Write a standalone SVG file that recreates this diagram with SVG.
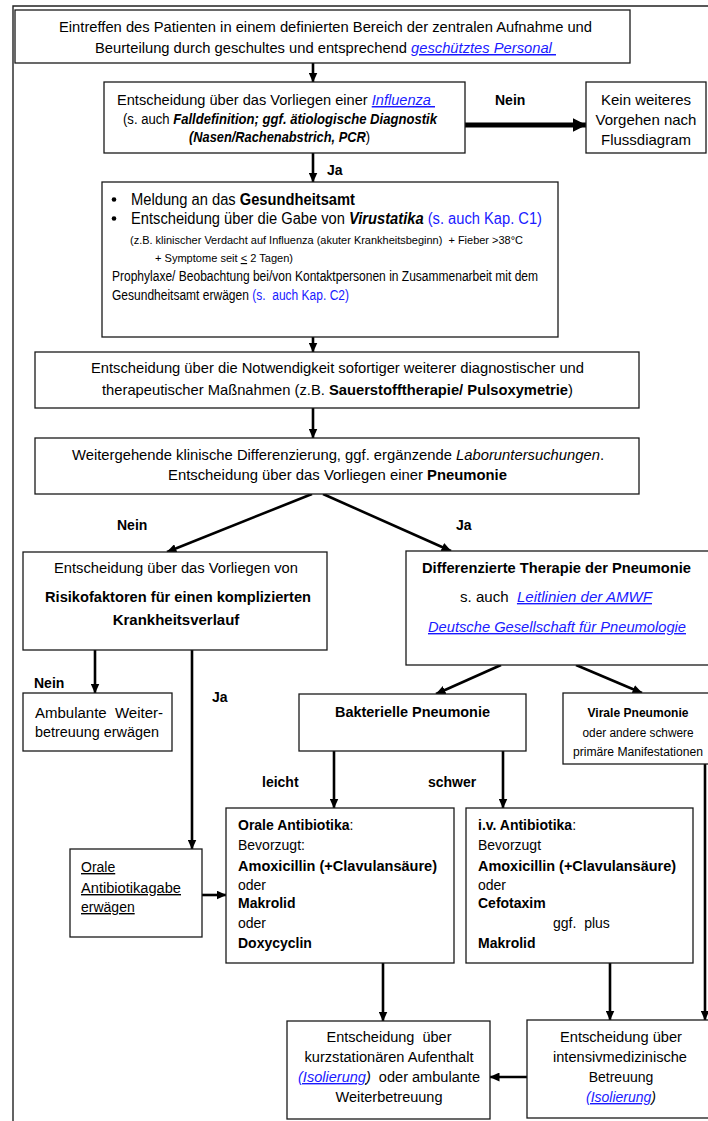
<svg xmlns="http://www.w3.org/2000/svg" width="708" height="1121" viewBox="0 0 708 1121">
<style>
.t{font-family:"Liberation Sans",Arial,sans-serif;font-size:15px;fill:#000;white-space:pre}
.s{font-size:14px}
.b{font-weight:bold}
.i{font-style:italic}
.lk{fill:#1a1aff;font-style:italic;text-decoration:underline}
.bl{fill:#1a1aff}
.u{text-decoration:underline}
.box{fill:#fff;stroke:#1a1a1a;stroke-width:1.3}
.c{fill:none;stroke:#000;stroke-width:2.6}
.frame{fill:none;stroke:#222;stroke-width:1.4}
</style>
<defs>
<marker id="ah" viewBox="0 0 10 9" refX="9.5" refY="4.5" markerWidth="10" markerHeight="9" markerUnits="userSpaceOnUse" orient="auto"><path d="M0,0 L10,4.5 L0,9 z" fill="#000"/></marker>
<marker id="ahb" viewBox="0 0 14 14" refX="13.5" refY="7" markerWidth="14" markerHeight="14" markerUnits="userSpaceOnUse" orient="auto"><path d="M0,0 L14,7 L0,14 z" fill="#000"/></marker>
</defs>
<rect width="708" height="1121" fill="#fff"/>
<path class="frame" d="M13,1121 V6 H708"/>

<g id="connectors">
<path class="c" d="M313,63 V82" marker-end="url(#ah)"/>
<path class="c" d="M465,125 H586" style="stroke-width:5" marker-end="url(#ahb)"/>
<path class="c" d="M313,153 V182" marker-end="url(#ah)"/>
<path class="c" d="M313,337 V352" marker-end="url(#ah)"/>
<path class="c" d="M313,408 V438" marker-end="url(#ah)"/>
<path class="c" d="M312,494 L167,552" marker-end="url(#ah)"/>
<path class="c" d="M323,494 L451,551" marker-end="url(#ah)"/>
<path class="c" d="M95,650 V693" marker-end="url(#ah)"/>
<path class="c" d="M192,650 V849" marker-end="url(#ah)"/>
<path class="c" d="M501,665 L436,694" marker-end="url(#ah)"/>
<path class="c" d="M576,665 L642,693" marker-end="url(#ah)"/>
<path class="c" d="M334,751 V808" marker-end="url(#ah)"/>
<path class="c" d="M503,751 V808" marker-end="url(#ah)"/>
<path class="c" d="M202,895 H226" marker-end="url(#ah)"/>
<path class="c" d="M383,963 V1021" marker-end="url(#ah)"/>
<path class="c" d="M610,963 V1020" marker-end="url(#ah)"/>
<path class="c" d="M705,764 V1020" marker-end="url(#ah)"/>
<path class="c" d="M527,1077 H490" marker-end="url(#ah)"/>
<text class="t b s" x="495" y="105">Nein</text>
<text class="t b s" x="327" y="175">Ja</text>
<text class="t b s" x="117" y="530">Nein</text>
<text class="t b s" x="456" y="530">Ja</text>
<text class="t b s" x="34" y="688">Nein</text>
<text class="t b s" x="212" y="702">Ja</text>
<text class="t b s" x="262" y="787">leicht</text>
<text class="t b s" x="428" y="787">schwer</text>
</g>

<g id="n1">
<rect class="box" x="15" y="10" width="615" height="53"/>
<text class="t" x="59" y="32" textLength="533" lengthAdjust="spacingAndGlyphs">Eintreffen des Patienten in einem definierten Bereich der zentralen Aufnahme und</text>
<text class="t" x="95" y="53" textLength="461" lengthAdjust="spacingAndGlyphs">Beurteilung durch geschultes und entsprechend <tspan class="lk">geschütztes Personal </tspan></text>
</g>

<g id="n2">
<rect class="box" x="104" y="82" width="361" height="71"/>
<text class="t" x="117" y="105" textLength="318" lengthAdjust="spacingAndGlyphs">Entscheidung über das Vorliegen einer <tspan class="lk">Influenza </tspan></text>
<text class="t s" x="123" y="124" textLength="314" lengthAdjust="spacingAndGlyphs">(s. auch <tspan class="b i">Falldefinition; ggf. ätiologische Diagnostik</tspan></text>
<text class="t s" x="189" y="142" textLength="181" lengthAdjust="spacingAndGlyphs"><tspan class="b i">(Nasen/Rachenabstrich, PCR</tspan>)</text>
</g>

<g id="n3">
<rect class="box" x="586" y="82" width="120" height="71"/>
<text class="t" x="646" y="105" text-anchor="middle">Kein weiteres</text>
<text class="t" x="646" y="125" text-anchor="middle">Vorgehen nach</text>
<text class="t" x="646" y="145" text-anchor="middle">Flussdiagram</text>
</g>

<g id="n4">
<rect class="box" x="102" y="182" width="456" height="155"/>
<circle cx="114" cy="199.5" r="2.3"/>
<circle cx="114" cy="218.5" r="2.3"/>
<text class="t" x="131" y="205" style="font-size:16px" textLength="224" lengthAdjust="spacingAndGlyphs">Meldung an das <tspan class="b">Gesundheitsamt</tspan></text>
<text class="t" x="131" y="224" style="font-size:16px" textLength="411" lengthAdjust="spacingAndGlyphs">Entscheidung über die Gabe von <tspan class="b i">Virustatika</tspan><tspan class="bl"> (s. auch Kap. C1)</tspan></text>
<text class="t" x="130" y="244" style="font-size:11.5px" textLength="393" lengthAdjust="spacingAndGlyphs">(z.B. klinischer Verdacht auf Influenza (akuter Krankheitsbeginn)  + Fieber &gt;38°C</text>
<text class="t" x="155" y="262" style="font-size:11.5px" textLength="138" lengthAdjust="spacingAndGlyphs">+ Symptome seit <tspan class="u">&lt;</tspan> 2 Tagen)</text>
<text class="t s" x="112" y="281" textLength="426" lengthAdjust="spacingAndGlyphs">Prophylaxe/ Beobachtung bei/von Kontaktpersonen in Zusammenarbeit mit dem</text>
<text class="t s" x="112" y="300" textLength="237" lengthAdjust="spacingAndGlyphs">Gesundheitsamt erwägen <tspan class="bl">(s.  auch Kap. C2)</tspan></text>
</g>

<g id="n5">
<rect class="box" x="35" y="352" width="604" height="56"/>
<text class="t" x="91" y="373" textLength="493" lengthAdjust="spacingAndGlyphs">Entscheidung über die Notwendigkeit sofortiger weiterer diagnostischer und</text>
<text class="t" x="102" y="395" textLength="471" lengthAdjust="spacingAndGlyphs">therapeutischer Maßnahmen (z.B. <tspan class="b">Sauerstofftherapie/ Pulsoxymetrie</tspan>)</text>
</g>

<g id="n6">
<rect class="box" x="35" y="438" width="604" height="56"/>
<text class="t" x="72" y="460" textLength="532" lengthAdjust="spacingAndGlyphs">Weitergehende klinische Differenzierung, ggf. ergänzende <tspan class="i">Laboruntersuchungen</tspan>.</text>
<text class="t" x="168" y="480" textLength="339" lengthAdjust="spacingAndGlyphs">Entscheidung über das Vorliegen einer <tspan class="b">Pneumonie</tspan></text>
</g>

<g id="n7">
<rect class="box" x="23" y="552" width="304" height="98"/>
<text class="t s" x="54" y="573" textLength="244" lengthAdjust="spacingAndGlyphs">Entscheidung über das Vorliegen von</text>
<text class="t b" x="45" y="602" textLength="266" lengthAdjust="spacingAndGlyphs">Risikofaktoren für einen komplizierten</text>
<text class="t b" x="176" y="625" text-anchor="middle">Krankheitsverlauf</text>
</g>

<g id="n8">
<rect class="box" x="406" y="551" width="310" height="114"/>
<text class="t b s" x="422" y="573" textLength="269" lengthAdjust="spacingAndGlyphs">Differenzierte Therapie der Pneumonie</text>
<text class="t s" x="460" y="602" textLength="192" lengthAdjust="spacingAndGlyphs">s. auch  <tspan class="lk">Leitlinien der AMWF</tspan></text>
<text class="t s" x="428" y="632" textLength="258" lengthAdjust="spacingAndGlyphs"><tspan class="lk">Deutsche Gesellschaft für Pneumologie</tspan></text>
</g>

<g id="n9">
<rect class="box" x="23" y="693" width="149" height="58"/>
<text class="t s" x="35" y="718" textLength="128" lengthAdjust="spacingAndGlyphs">Ambulante  Weiter-</text>
<text class="t s" x="35" y="737" textLength="124" lengthAdjust="spacingAndGlyphs">betreuung erwägen</text>
</g>

<g id="n10">
<rect class="box" x="299" y="694" width="227" height="57"/>
<text class="t b s" x="335" y="717" textLength="155" lengthAdjust="spacingAndGlyphs">Bakterielle Pneumonie</text>
</g>

<g id="n11">
<rect class="box" x="563" y="693" width="160" height="71"/>
<text class="t b" x="638" y="717" text-anchor="middle" style="font-size:12.5px" textLength="101" lengthAdjust="spacingAndGlyphs">Virale Pneumonie</text>
<text class="t" x="638" y="737" text-anchor="middle" style="font-size:12.5px" textLength="111" lengthAdjust="spacingAndGlyphs">oder andere schwere</text>
<text class="t" x="638" y="756" text-anchor="middle" style="font-size:12.5px" textLength="130" lengthAdjust="spacingAndGlyphs">primäre Manifestationen</text>
</g>

<g id="n12">
<rect class="box" x="70" y="849" width="132" height="88"/>
<text class="t s u" x="81" y="872">Orale</text>
<text class="t s u" x="81" y="893" textLength="100" lengthAdjust="spacingAndGlyphs">Antibiotikagabe</text>
<text class="t s u" x="81" y="912">erwägen</text>
</g>

<g id="n13">
<rect class="box" x="226" y="808" width="228" height="155"/>
<text class="t s" x="238" y="830"><tspan class="b">Orale Antibiotika</tspan>:</text>
<text class="t s" x="238" y="850">Bevorzugt:</text>
<text class="t s b" x="238" y="871" textLength="199" lengthAdjust="spacingAndGlyphs">Amoxicillin (+Clavulansäure)</text>
<text class="t s" x="238" y="890">oder</text>
<text class="t s b" x="238" y="908">Makrolid</text>
<text class="t s" x="238" y="928">oder</text>
<text class="t s b" x="238" y="948">Doxycyclin</text>
</g>

<g id="n14">
<rect class="box" x="466" y="808" width="227" height="155"/>
<text class="t s" x="478" y="830"><tspan class="b">i.v. Antibiotika</tspan>:</text>
<text class="t s" x="478" y="850">Bevorzugt</text>
<text class="t s b" x="478" y="871" textLength="198" lengthAdjust="spacingAndGlyphs">Amoxicillin (+Clavulansäure)</text>
<text class="t s" x="478" y="890">oder</text>
<text class="t s b" x="478" y="908">Cefotaxim</text>
<text class="t s" x="553" y="928">ggf.  plus</text>
<text class="t s b" x="478" y="948">Makrolid</text>
</g>

<g id="n15">
<rect class="box" x="287" y="1021" width="203" height="98"/>
<text class="t s" x="389" y="1042" text-anchor="middle" textLength="125" lengthAdjust="spacingAndGlyphs">Entscheidung  über</text>
<text class="t s" x="389" y="1062" text-anchor="middle" textLength="169" lengthAdjust="spacingAndGlyphs">kurzstationären Aufenthalt</text>
<text class="t s" x="389" y="1082" text-anchor="middle" textLength="182" lengthAdjust="spacingAndGlyphs"><tspan class="lk">(Isolierung</tspan><tspan class="i">)</tspan>  oder ambulante</text>
<text class="t s" x="389" y="1102" text-anchor="middle" textLength="107" lengthAdjust="spacingAndGlyphs">Weiterbetreuung</text>
</g>

<g id="n16">
<rect class="box" x="527" y="1020" width="190" height="98"/>
<text class="t s" x="621" y="1042" text-anchor="middle" textLength="122" lengthAdjust="spacingAndGlyphs">Entscheidung über</text>
<text class="t s" x="620" y="1062" text-anchor="middle" textLength="134" lengthAdjust="spacingAndGlyphs">intensivmedizinische</text>
<text class="t s" x="621" y="1082" text-anchor="middle">Betreuung</text>
<text class="t s" x="621" y="1102" text-anchor="middle"><tspan class="lk">(Isolierung</tspan><tspan class="i">)</tspan></text>
</g>
</svg>
